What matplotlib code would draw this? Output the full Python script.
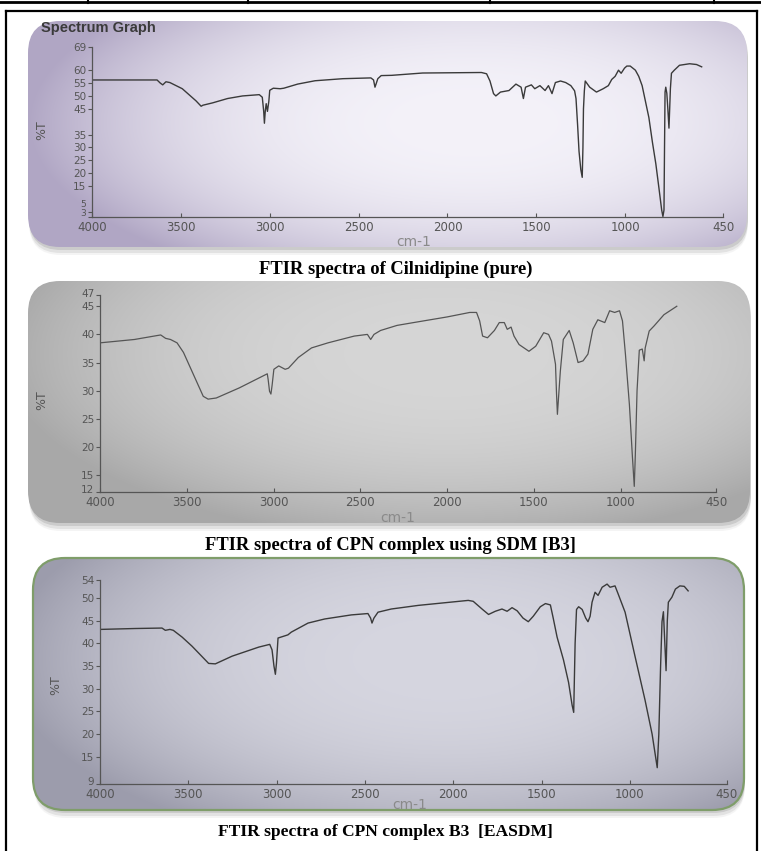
import numpy as np
import matplotlib
matplotlib.use("Agg")
import matplotlib.pyplot as plt
import matplotlib.transforms as mtrans
from matplotlib.patches import FancyBboxPatch

# ---------------- data ----------------
x_ticks = [4000, 3500, 3000, 2500, 2000, 1500, 1000, 450]
x_tick_labels = ["4000", "3500", "3000", "2500", "2000", "1500", "1000", "450"]

captions = ["FTIR spectra of Cilnidipine (pure)",
            "FTIR spectra of CPN complex using SDM [B3]",
            "FTIR spectra of CPN complex B3  [EASDM]"]

# Panel 1: Cilnidipine (pure)
wn1 = [4000, 3700, 3634, 3616, 3602, 3584, 3562, 3492, 3415, 3386, 3376, 3322, 3237, 3153,
       3059, 3042, 3034, 3030, 3025, 3020, 3013, 3005, 3000, 2980, 2941, 2921, 2843, 2745,
       2588, 2431, 2416, 2408, 2402, 2392, 2373, 2314, 2140, 1809, 1780, 1761, 1741, 1728,
       1702, 1654, 1615, 1586, 1573, 1561, 1528, 1509, 1480, 1451, 1432, 1412, 1393, 1364,
       1335, 1306, 1285, 1277, 1268, 1260, 1250, 1242, 1238, 1235, 1230, 1225, 1200, 1162,
       1124, 1095, 1076, 1057, 1038, 1023, 1004, 991, 972, 943, 924, 905, 886, 867, 847,
       828, 810, 795, 788, 782, 779, 776, 772, 766, 760, 754, 750, 746, 740, 724, 695, 638,
       599, 570]
t1 = [56.2, 56.2, 56.2, 55.0, 54.3, 55.5, 55.2, 52.8, 48.1, 46.0, 46.4, 47.3, 49.0, 50.0,
      50.5, 49.5, 44.0, 39.4, 44.3, 47.0, 44.0, 48.0, 52.2, 53.0, 52.8, 53.0, 54.6, 55.9,
      56.7, 57.0, 56.2, 53.4, 54.6, 56.7, 57.9, 58.0, 58.9, 59.1, 58.6, 55.8, 50.9, 50.0,
      51.5, 52.1, 54.6, 53.4, 49.0, 53.4, 54.3, 52.8, 54.0, 52.1, 54.0, 50.9, 55.2, 55.8,
      55.2, 54.0, 52.0, 49.0, 38.7, 28.5, 21.4, 18.4, 30.0, 45.0, 52.0, 55.8, 53.4, 51.5,
      52.8, 54.0, 56.4, 57.6, 60.0, 58.8, 60.8, 61.6, 61.6, 60.0, 57.6, 54.0, 47.8, 41.6, 32.0,
      23.7, 14.0, 5.7, 3.2, 5.7, 30.0, 51.5, 53.4, 51.0, 44.6, 37.5, 45.0, 52.8, 58.8, 60.0,
      61.9, 62.5, 62.2, 61.3]
yt1 = [3, 5, 15, 20, 25, 30, 35, 45, 50, 55, 60, 69]

# Panel 2: CPN complex using SDM [B3]
wn2 = [4000, 3900, 3801, 3670, 3650, 3622, 3594, 3556, 3519, 3462, 3405, 3377, 3330, 3197,
       3036, 3031, 3023, 3015, 3008, 2998, 2970, 2933, 2914, 2857, 2781, 2686, 2535, 2459,
       2440, 2421, 2383, 2288, 2193, 2000, 1869, 1830, 1812, 1795, 1767, 1727, 1699, 1670,
       1653, 1631, 1614, 1585, 1528, 1489, 1443, 1415, 1398, 1375, 1369, 1364, 1347, 1330,
       1296, 1273, 1245, 1216, 1188, 1160, 1131, 1091, 1063, 1034, 1006, 989, 972, 949, 932,
       921, 915, 905, 892, 875, 864, 858, 835, 807, 750, 676]
t2 = [38.5, 38.8, 39.1, 39.8, 39.9, 39.3, 39.1, 38.5, 36.8, 32.9, 29.0, 28.5, 28.7, 30.5,
      33.0, 32.0, 29.9, 29.4, 31.0, 33.8, 34.4, 33.8, 34.0, 35.9, 37.6, 38.5, 39.7, 40.0,
      39.1, 40.0, 40.7, 41.6, 42.1, 43.1, 43.9, 43.9, 42.4, 39.7, 39.4, 40.7, 42.1, 42.1,
      40.9, 41.3, 39.7, 38.2, 37.0, 37.9, 40.3, 40.0, 38.8, 34.7, 29.4, 25.8, 33.5, 39.1,
      40.7, 38.5, 35.0, 35.3, 36.5, 40.9, 42.6, 42.1, 44.2, 43.9, 44.2, 42.4, 36.5, 27.5, 18.4,
      13.0, 18.5, 30.0, 37.2, 37.4, 35.3, 37.6, 40.6, 41.5, 43.5, 45.0]
yt2 = [12, 15, 20, 25, 30, 35, 40, 45, 47]

# Panel 3: CPN complex B3 [EASDM]
wn3 = [4000, 3800, 3649, 3630, 3604, 3585, 3535, 3479, 3422, 3385, 3347, 3252, 3101, 3039,
       3026, 3015, 3007, 3001, 2992, 2936, 2917, 2822, 2728, 2577, 2483, 2468, 2460, 2449,
       2426, 2351, 2274, 2198, 1915, 1887, 1834, 1800, 1762, 1724, 1695, 1667, 1638, 1605,
       1575, 1547, 1507, 1478, 1450, 1434, 1412, 1376, 1347, 1327, 1318, 1310, 1302, 1290,
       1270, 1250, 1237, 1225, 1214, 1197, 1180, 1157, 1129, 1112, 1084, 1067, 1027, 971,
       914, 874, 845, 836, 826, 818, 810, 802, 795, 788, 782, 762, 742, 717, 692, 670]
t3 = [43.1, 43.3, 43.4, 42.9, 43.1, 42.9, 41.4, 39.4, 37.1, 35.6, 35.5, 37.2, 39.2, 39.8,
      38.6, 35.0, 33.2, 35.6, 41.2, 41.9, 42.5, 44.5, 45.4, 46.3, 46.6, 45.6, 44.5, 45.6,
      46.9, 47.6, 48.0, 48.4, 49.5, 49.3, 47.5, 46.4, 47.1, 47.6, 47.1, 47.9, 47.2, 45.6,
      44.8, 46.0, 48.1, 48.8, 48.5, 45.6, 41.4, 36.4, 31.4, 26.4, 24.8, 40.0, 47.5, 48.1,
      47.5, 45.6, 44.8, 46.0, 49.1, 51.3, 50.6, 52.4, 53.1, 52.4, 52.7, 51.0, 46.9, 37.2,
      27.5, 20.0, 12.6, 20.0, 35.0, 44.8, 47.0, 40.0, 34.0, 45.0, 49.1, 50.2, 52.0, 52.7,
      52.6, 51.6]
yt3 = [9, 15, 20, 25, 30, 35, 40, 45, 50, 54]

# ---------------- figure ----------------
W, H = 761, 851
fig = plt.figure(figsize=(W / 100, H / 100), dpi=100)
fig.patch.set_facecolor("white")
bg = fig.add_axes([0, 0, 1, 1])
bg.axis("off")

# document frame
bg.plot([0, W], [2, 2], color="black", lw=2.0, zorder=6)
for xs in [88, 248, 490, 714]:
    bg.plot([xs, xs], [0, 3], color="black", lw=1.5, zorder=6)
bg.plot([6, 6], [11, H], color="black", lw=1.6, zorder=6)
bg.plot([6, 757], [11, 11], color="black", lw=1.6, zorder=6)
bg.plot([757, 757], [11, H], color="black", lw=1.6, zorder=6)


def add_panel(x0, y0, x1, y1, light, dark, cx, cy, edge="none"):
    w, h = x1 - x0, y1 - y0
    for off, a in [(8, 0.08), (6, 0.14), (3, 0.22)]:
        sp = FancyBboxPatch((x0 + 1, y0 + off), w, h,
                            boxstyle="round,pad=0,rounding_size=32",
                            fc="#7a7a7a", ec="none", alpha=a, zorder=1)
        bg.add_patch(sp)
    patch = FancyBboxPatch((x0, y0), w, h, boxstyle="round,pad=0,rounding_size=32",
                           fc="none", ec=edge, lw=1.6, zorder=3)
    bg.add_patch(patch)
    yy, xx = np.mgrid[0:1:complex(0, int(h)), 0:1:complex(0, int(w))]
    v = np.clip(((xx - cx) / 0.62) ** 2 + ((yy - cy) / 0.78) ** 2, 0, 1) ** 1.3
    light = np.array(light, float)
    dark = np.array(dark, float)
    img = light[None, None, :] * (1 - v[..., None]) + dark[None, None, :] * v[..., None]
    im = bg.imshow(img / 255.0, extent=(x0, x1, y1, y0), origin="upper", zorder=2,
                   interpolation="bilinear", aspect="auto")
    im.set_clip_path(patch)
    return patch


p1 = add_panel(28, 21, 747, 247, (244, 242, 249), (176, 166, 196), 0.62, 0.45)
p2 = add_panel(28, 281, 750, 523, (214, 214, 214), (168, 168, 168), 0.58, 0.30)
p3 = add_panel(33, 558, 744, 810, (214, 214, 224), (156, 156, 172), 0.58, 0.40, edge="#7f9d6a")

bg.set_xlim(0, W)
bg.set_ylim(H, 0)

# texts on the page
bg.text(41, 28, "Spectrum Graph", fontsize=10.5, fontweight="bold", color="#3a3a3a",
        family="Liberation Sans", va="center", ha="left", zorder=5)
cap_pos = [(396, 269, 13.3), (390, 545, 13.3), (385, 832, 12.6)]
for (cx, cy, fs), c in zip(cap_pos, captions):
    bg.text(cx, cy, c, fontsize=fs, fontweight="bold", family="Liberation Serif",
            ha="center", va="center", color="black", zorder=5)

for (tx, ty, p) in [(414, 242, p1), (398, 518, p2), (410, 805, p3)]:
    t = bg.text(tx, ty, "cm-1", fontsize=10, color="#8a8a8a", ha="center", va="center",
                family="DejaVu Sans", zorder=5)
    t.set_clip_path(p)
for (tx, ty) in [(42, 130), (42, 400), (56, 685)]:
    bg.text(tx, ty, "%T", fontsize=9, color="#555555", rotation=90, ha="center",
            va="center", family="DejaVu Sans", zorder=5)


def data_ax(xl, xr, ybot, ytop, ymin, ymax, yticks):
    ax = fig.add_axes([xl / W, 1 - ybot / H, (xr - xl) / W, (ybot - ytop) / H])
    ax.set_xlim(4000, 450)
    ax.set_ylim(ymin, ymax)
    ax.patch.set_alpha(0)
    for s in ["top", "right"]:
        ax.spines[s].set_visible(False)
    for s in ["left", "bottom"]:
        ax.spines[s].set_color("#555555")
        ax.spines[s].set_linewidth(0.9)
    ax.set_xticks(x_ticks)
    ax.set_xticklabels(x_tick_labels, fontsize=8.5, color="#555555")
    ax.set_yticks(yticks)
    ax.set_yticklabels([str(v) for v in yticks], fontsize=7.5, color="#555555")
    ax.tick_params(axis="x", direction="in", length=3, pad=3, color="#555555")
    ax.tick_params(axis="y", direction="out", length=3, pad=1, color="#555555")
    return ax


def shift_label(ax, idx, dy_px, fs=None):
    lab = ax.get_yticklabels()[idx]
    lab.set_transform(lab.get_transform() +
                      mtrans.ScaledTranslation(0, dy_px / 100.0, fig.dpi_scale_trans))
    if fs:
        lab.set_fontsize(fs)


ax1 = data_ax(92, 723, 217, 47, 3, 69, yt1)
ax1.plot(wn1, t1, color="#3a3a3a", lw=1.0)
shift_label(ax1, 0, 4, 6.5)
shift_label(ax1, 1, 8, 6.5)

ax2 = data_ax(100, 716, 492, 295, 12, 47, yt2)
ax2.plot(wn2, t2, color="#555555", lw=0.9)
shift_label(ax2, 0, 3)
shift_label(ax2, len(yt2) - 1, 2)

ax3 = data_ax(100, 727, 784, 580, 9, 54, yt3)
ax3.plot(wn3, t3, color="#3a3a3a", lw=1.0)
shift_label(ax3, 0, 3)

fig.savefig("out.png", dpi=100, facecolor="white")
